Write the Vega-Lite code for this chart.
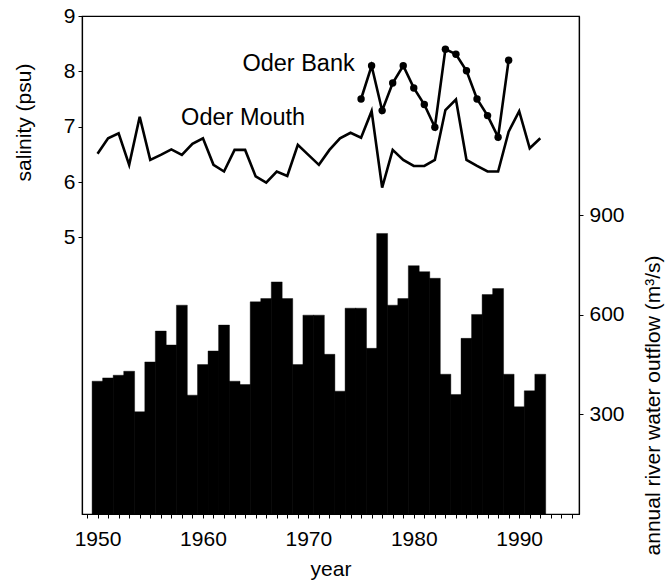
{
  "$schema": "https://vega.github.io/schema/vega-lite/v6.json",
  "width": 497,
  "height": 498,
  "autosize": {"type": "none"},
  "padding": {"left": 82, "top": 16, "right": 92, "bottom": 66},
  "config": {
    "view": {"stroke": "black", "strokeWidth": 1.2},
    "font": "Liberation Sans",
    "axis": {
      "domainColor": "black", "domainWidth": 1.2, "tickColor": "black", "tickSize": 4,
      "labelColor": "black", "titleColor": "black",
      "labelFont": "Liberation Sans", "titleFont": "Liberation Sans",
      "labelFontSize": 21, "titleFontSize": 21, "titleFontWeight": "normal",
      "grid": false, "labelFlush": false, "labelOverlap": false
    }
  },
  "datasets": {
    "flow": [
      {"year": 1950, "outflow": 400}, {"year": 1951, "outflow": 410}, {"year": 1952, "outflow": 418},
      {"year": 1953, "outflow": 430}, {"year": 1954, "outflow": 308}, {"year": 1955, "outflow": 458},
      {"year": 1956, "outflow": 551}, {"year": 1957, "outflow": 509}, {"year": 1958, "outflow": 629},
      {"year": 1959, "outflow": 358}, {"year": 1960, "outflow": 450}, {"year": 1961, "outflow": 491},
      {"year": 1962, "outflow": 569}, {"year": 1963, "outflow": 400}, {"year": 1964, "outflow": 390},
      {"year": 1965, "outflow": 639}, {"year": 1966, "outflow": 649}, {"year": 1967, "outflow": 699},
      {"year": 1968, "outflow": 649}, {"year": 1969, "outflow": 450}, {"year": 1970, "outflow": 599},
      {"year": 1971, "outflow": 599}, {"year": 1972, "outflow": 481}, {"year": 1973, "outflow": 370},
      {"year": 1974, "outflow": 620}, {"year": 1975, "outflow": 620}, {"year": 1976, "outflow": 499},
      {"year": 1977, "outflow": 845}, {"year": 1978, "outflow": 629}, {"year": 1979, "outflow": 649},
      {"year": 1980, "outflow": 748}, {"year": 1981, "outflow": 730}, {"year": 1982, "outflow": 710},
      {"year": 1983, "outflow": 421}, {"year": 1984, "outflow": 360}, {"year": 1985, "outflow": 529},
      {"year": 1986, "outflow": 601}, {"year": 1987, "outflow": 661}, {"year": 1988, "outflow": 679},
      {"year": 1989, "outflow": 421}, {"year": 1990, "outflow": 323}, {"year": 1991, "outflow": 371},
      {"year": 1992, "outflow": 421}
    ],
    "salinity": [
      {"year": 1950, "site": "Oder Mouth", "salinity": 6.51}, {"year": 1951, "site": "Oder Mouth", "salinity": 6.79},
      {"year": 1952, "site": "Oder Mouth", "salinity": 6.88}, {"year": 1953, "site": "Oder Mouth", "salinity": 6.31},
      {"year": 1954, "site": "Oder Mouth", "salinity": 7.18}, {"year": 1955, "site": "Oder Mouth", "salinity": 6.40},
      {"year": 1956, "site": "Oder Mouth", "salinity": 6.49}, {"year": 1957, "site": "Oder Mouth", "salinity": 6.59},
      {"year": 1958, "site": "Oder Mouth", "salinity": 6.49}, {"year": 1959, "site": "Oder Mouth", "salinity": 6.69},
      {"year": 1960, "site": "Oder Mouth", "salinity": 6.79}, {"year": 1961, "site": "Oder Mouth", "salinity": 6.31},
      {"year": 1962, "site": "Oder Mouth", "salinity": 6.19}, {"year": 1963, "site": "Oder Mouth", "salinity": 6.58},
      {"year": 1964, "site": "Oder Mouth", "salinity": 6.58}, {"year": 1965, "site": "Oder Mouth", "salinity": 6.10},
      {"year": 1966, "site": "Oder Mouth", "salinity": 5.99}, {"year": 1967, "site": "Oder Mouth", "salinity": 6.19},
      {"year": 1968, "site": "Oder Mouth", "salinity": 6.11}, {"year": 1969, "site": "Oder Mouth", "salinity": 6.67},
      {"year": 1970, "site": "Oder Mouth", "salinity": 6.49}, {"year": 1971, "site": "Oder Mouth", "salinity": 6.31},
      {"year": 1972, "site": "Oder Mouth", "salinity": 6.58}, {"year": 1973, "site": "Oder Mouth", "salinity": 6.79},
      {"year": 1974, "site": "Oder Mouth", "salinity": 6.89}, {"year": 1975, "site": "Oder Mouth", "salinity": 6.80},
      {"year": 1976, "site": "Oder Mouth", "salinity": 7.28}, {"year": 1977, "site": "Oder Mouth", "salinity": 5.90},
      {"year": 1978, "site": "Oder Mouth", "salinity": 6.58}, {"year": 1979, "site": "Oder Mouth", "salinity": 6.40},
      {"year": 1980, "site": "Oder Mouth", "salinity": 6.29}, {"year": 1981, "site": "Oder Mouth", "salinity": 6.29},
      {"year": 1982, "site": "Oder Mouth", "salinity": 6.40}, {"year": 1983, "site": "Oder Mouth", "salinity": 7.30},
      {"year": 1984, "site": "Oder Mouth", "salinity": 7.49}, {"year": 1985, "site": "Oder Mouth", "salinity": 6.40},
      {"year": 1986, "site": "Oder Mouth", "salinity": 6.29}, {"year": 1987, "site": "Oder Mouth", "salinity": 6.19},
      {"year": 1988, "site": "Oder Mouth", "salinity": 6.19}, {"year": 1989, "site": "Oder Mouth", "salinity": 6.91},
      {"year": 1990, "site": "Oder Mouth", "salinity": 7.28}, {"year": 1991, "site": "Oder Mouth", "salinity": 6.61},
      {"year": 1992, "site": "Oder Mouth", "salinity": 6.79},
      {"year": 1975, "site": "Oder Bank", "salinity": 7.50}, {"year": 1976, "site": "Oder Bank", "salinity": 8.10},
      {"year": 1977, "site": "Oder Bank", "salinity": 7.29}, {"year": 1978, "site": "Oder Bank", "salinity": 7.79},
      {"year": 1979, "site": "Oder Bank", "salinity": 8.10}, {"year": 1980, "site": "Oder Bank", "salinity": 7.70},
      {"year": 1981, "site": "Oder Bank", "salinity": 7.40}, {"year": 1982, "site": "Oder Bank", "salinity": 6.99},
      {"year": 1983, "site": "Oder Bank", "salinity": 8.40}, {"year": 1984, "site": "Oder Bank", "salinity": 8.31},
      {"year": 1985, "site": "Oder Bank", "salinity": 8.01}, {"year": 1986, "site": "Oder Bank", "salinity": 7.50},
      {"year": 1987, "site": "Oder Bank", "salinity": 7.20}, {"year": 1988, "site": "Oder Bank", "salinity": 6.81},
      {"year": 1989, "site": "Oder Bank", "salinity": 8.20}
    ],
    "labels": [
      {"year": 1974.4, "salinity": 8.13, "label": "Oder Bank"},
      {"year": 1969.7, "salinity": 7.16, "label": "Oder Mouth"}
    ]
  },
  "layer": [
    {
      "data": {"name": "flow"},
      "mark": {"type": "bar", "color": "black", "width": 10.9, "stroke": "black", "strokeWidth": 0.4},
      "encoding": {
        "x": {
          "field": "year", "type": "quantitative",
          "scale": {"domain": [1949, 1995.2], "nice": false, "zero": false},
          "axis": {
            "title": "year", "titlePadding": 9, "labelPadding": 10,
            "values": [1949,1950,1951,1952,1953,1954,1955,1956,1957,1958,1959,1960,1961,1962,1963,1964,1965,1966,1967,1968,1969,1970,1971,1972,1973,1974,1975,1976,1977,1978,1979,1980,1981,1982,1983,1984,1985,1986,1987,1988,1989,1990,1991,1992,1993,1994,1995],
            "labelExpr": "datum.value % 10 == 0 ? toString(datum.value) : ''"
          }
        },
        "y": {
          "field": "outflow", "type": "quantitative",
          "scale": {"domain": [0, 1500], "nice": false},
          "axis": {
            "orient": "right", "values": [300, 600, 900],
            "title": "annual river water outflow (m³/s)",
            "titleAngle": 270, "titleX": 74, "titleY": 389, "titleAlign": "center", "titleBaseline": "middle",
            "labelPadding": 6
          }
        }
      }
    },
    {
      "data": {"name": "salinity"},
      "encoding": {
        "x": {
          "field": "year", "type": "quantitative",
          "scale": {"domain": [1949, 1995.2], "nice": false, "zero": false},
          "axis": {
            "title": "year", "titlePadding": 9, "labelPadding": 10,
            "values": [1949,1950,1951,1952,1953,1954,1955,1956,1957,1958,1959,1960,1961,1962,1963,1964,1965,1966,1967,1968,1969,1970,1971,1972,1973,1974,1975,1976,1977,1978,1979,1980,1981,1982,1983,1984,1985,1986,1987,1988,1989,1990,1991,1992,1993,1994,1995],
            "labelExpr": "datum.value % 10 == 0 ? toString(datum.value) : ''"
          }
        },
        "y": {
          "field": "salinity", "type": "quantitative",
          "scale": {"domain": [0, 9], "nice": false},
          "axis": {
            "values": [5, 6, 7, 8, 9], "title": "salinity (psu)",
            "titleX": -58, "titleY": 106, "titleAlign": "center", "titleBaseline": "middle", "titleAngle": 270,
            "labelPadding": 3
          }
        }
      },
      "layer": [
        {
          "mark": {"type": "line", "color": "black", "strokeWidth": 2.6},
          "encoding": {"detail": {"field": "site"}}
        },
        {
          "transform": [{"filter": "datum.site === 'Oder Bank'"}],
          "mark": {"type": "point", "filled": true, "color": "black", "size": 55, "opacity": 1}
        },
        {
          "data": {"name": "labels"},
          "mark": {"type": "text", "align": "right", "baseline": "middle", "fontSize": 23.5, "color": "black", "font": "Liberation Sans"},
          "encoding": {"text": {"field": "label"}}
        }
      ]
    }
  ],
  "resolve": {"scale": {"y": "independent"}, "axis": {"y": "independent"}}
}
